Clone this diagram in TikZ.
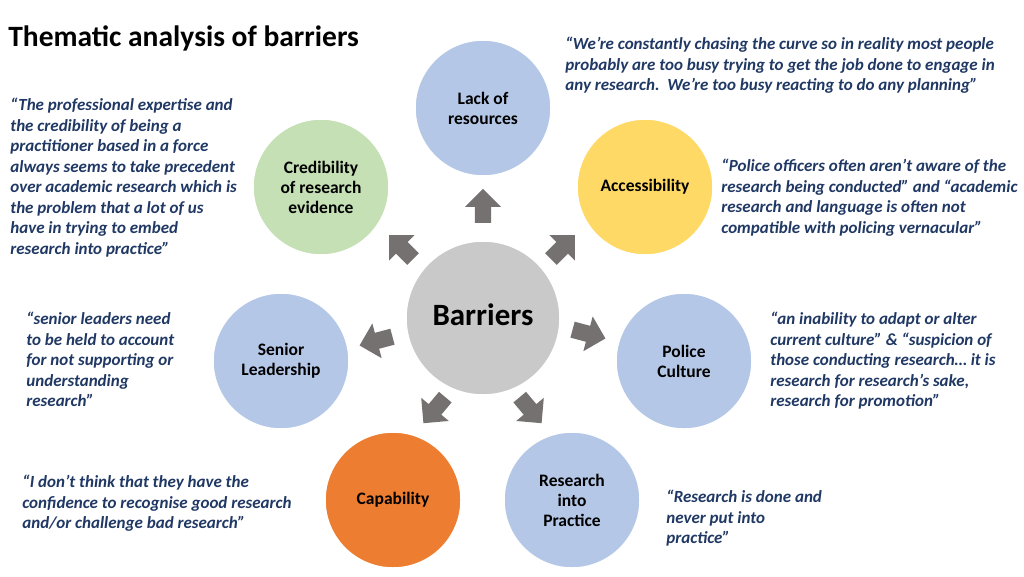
\documentclass[tikz,border=0pt]{standalone}
\usepackage{fontspec}
\setmainfont{Carlito}
\usetikzlibrary{shapes.arrows}
\definecolor{navy}{HTML}{203864}
\definecolor{lblue}{HTML}{B4C7E7}
\definecolor{lgreen}{HTML}{C5E0B4}
\definecolor{lyellow}{HTML}{FFD966}
\definecolor{lorange}{HTML}{ED7D31}
\definecolor{lgray}{HTML}{C9C9C9}
\definecolor{agray}{HTML}{767171}
\tikzset{every picture/.style={line width=0.75pt}}
\tikzset{
  theme/.style={circle,draw=white,line width=1.5pt,minimum size=136pt,inner sep=0pt,align=center,font=\fontsize{17.5}{20}\selectfont\bfseries,text=black},
  quote/.style={anchor=north west,inner sep=0pt,align=left,text=navy,font=\fontsize{17}{20.5}\selectfont\bfseries\itshape},
  pointer/.style={single arrow,fill=agray,draw=none,minimum height=34pt,minimum width=36pt,single arrow head extend=4pt,inner sep=3pt}
}
\begin{document}
\begin{tikzpicture}[x=1pt,y=-1pt]
\fill[white] (0,0) rectangle (1024,576);

% title
\node[anchor=west,inner sep=0pt,font=\fontsize{29.5}{32}\selectfont\bfseries] (title) at (8,38) {Thematic analysis of barriers};

% circles
\node[theme,fill=lgray,minimum size=154pt,font=\fontsize{31}{34}\selectfont\bfseries] (core) at (483,318) {\raisebox{6pt}{Barriers}};
\node[theme,fill=lblue] (res) at (483,108) {Lack of\\resources};
\node[theme,fill=lyellow] (acc) at (645,187) {Accessibility};
\node[theme,fill=lblue] (cult) at (684,361) {Police\\Culture};
\node[theme,fill=lblue] (prac) at (572,500) {Research\\into\\Practice};
\node[theme,fill=lorange] (cap) at (393,500) {Capability};
\node[theme,fill=lblue] (lead) at (281,361) {Senior\\Leadership};
\node[theme,fill=lgreen] (cred) at (321,187) {Credibility\\of research\\evidence};

% arrows
\node[pointer,rotate=90] (p1) at (483,210) {};
\node[pointer,rotate=45] (p2) at (560,250) {};
\node[pointer,rotate=-15] (p3) at (585,333) {};
\node[pointer,rotate=-50] (p4) at (528,407) {};
\node[pointer,rotate=-130] (p5) at (437,407) {};
\node[pointer,rotate=195] (p6) at (380,340) {};
\node[pointer,rotate=135] (p7) at (404,250) {};

% quotes
\node[quote] (q1) at (565,37) {“We’re constantly chasing the curve so in reality most people\\probably are too busy trying to get the job done to engage in\\any research.\ \ We’re too busy reacting to do any planning”};
\node[quote] (q2) at (10,98) {“The professional expertise and\\the credibility of being a\\practitioner based in a force\\always seems to take precedent\\over academic research which is\\the problem that a lot of us\\have in trying to embed\\research into practice"};
\node[quote] (q3) at (721,159) {“Police officers often aren’t aware of the\\research being conducted” and “academic\\research and language is often not\\compatible with policing vernacular”};
\node[quote] (q4) at (26,312) {“senior leaders need\\to be held to account\\for not supporting or\\understanding\\research”};
\node[quote] (q5) at (770,312) {“an inability to adapt or alter\\current culture” \& “suspicion of\\those conducting research… it is\\research for research’s sake,\\research for promotion”};
\node[quote] (q6) at (22,475) {“I don’t think that they have the\\confidence to recognise good research\\and/or challenge bad research”};
\node[quote] (q7) at (666,490) {“Research is done and\\never put into\\practice”};
\end{tikzpicture}
\end{document}
